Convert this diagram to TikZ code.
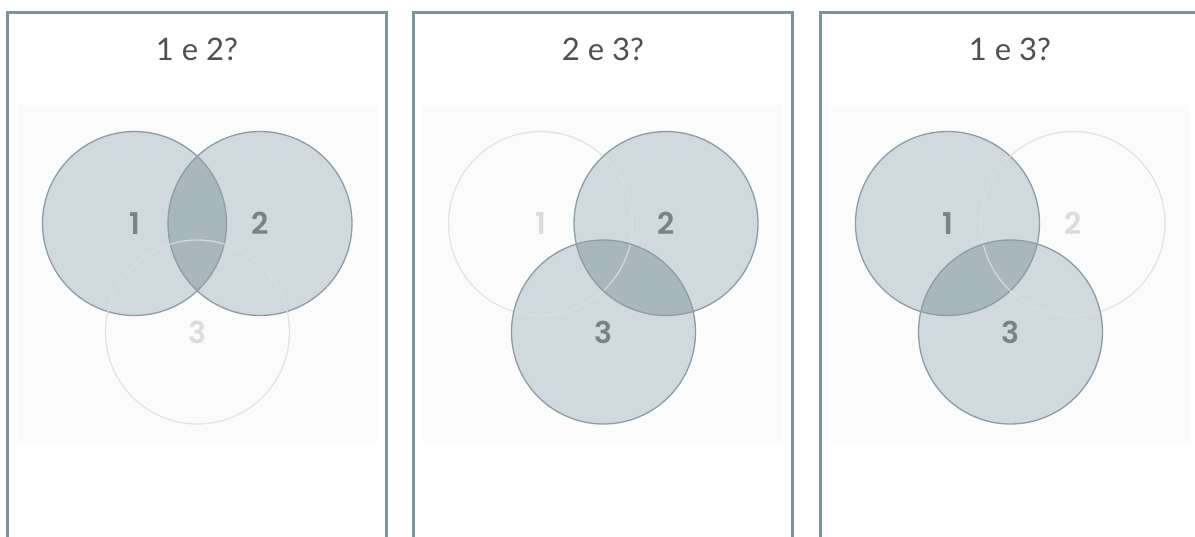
\documentclass[tikz,border=0pt]{standalone}
\usepackage{fontspec}
\setmainfont{Poppins}
\newfontfamily\titlefont{Lato}
\newfontfamily\numfont{Poppins}[UprightFont=* SemiBold]
\definecolor{vborder}{HTML}{7B929F}
\definecolor{vband}{HTML}{FBFBFB}
\definecolor{vsingle}{HTML}{CFD9DE}
\definecolor{vdouble}{HTML}{A8B7BE}
\definecolor{vline}{HTML}{8D9CA5}
\definecolor{voff}{HTML}{DEDEDE}
\definecolor{vnumon}{HTML}{7A8287}
\definecolor{vnumoff}{HTML}{DCDCDC}
\definecolor{vtitle}{HTML}{505050}
\tikzset{
  panelframe/.style={draw=vborder, line width=3pt},
  bandbox/.style={fill=vband},
  fill on/.style={fill=vsingle},
  fill off/.style={},
  line on/.style={draw=vline, line width=1.3pt},
  line off/.style={draw=voff, line width=1.3pt, draw opacity=0.8},
  num on/.style={text=vnumon, font=\numfont\fontsize{30}{34}\selectfont},
  num off/.style={text=vnumoff, font=\numfont\fontsize{30}{34}\selectfont},
  titletext/.style={text=vtitle, font=\titlefont\fontsize{31}{36}\selectfont},
}
% #1 prefix, #2 shift, #3 title, #4/#5/#6 state of circles 1/2/3, #7 #8 active pair
\newcommand\vennpanel[8]{%
\begin{scope}[xshift=#2]
  \fill[bandbox] (17,105) rectangle (377,443);
  \coordinate (#1-1) at (134.5,223.5);
  \coordinate (#1-2) at (260,223.5);
  \coordinate (#1-3) at (197.5,332);
  \path[fill #4] (#1-1) circle (92);
  \path[fill #5] (#1-2) circle (92);
  \path[fill #6] (#1-3) circle (92);
  \begin{scope}
    \clip (#1-#7) circle (92);
    \fill[vdouble] (#1-#8) circle (92);
  \end{scope}
  \path[line #4] (#1-1) circle (92);
  \path[line #5] (#1-2) circle (92);
  \path[line #6] (#1-3) circle (92);
  \node[num #4] (#1-n1) at (#1-1) {1};
  \node[num #5] (#1-n2) at (#1-2) {2};
  \node[num #6] (#1-n3) at (#1-3) {3};
  \node[titletext] (#1-t) at (197,49) {#3};
\end{scope}}
\begin{document}
\begin{tikzpicture}[x=1pt,y=-1pt]
\useasboundingbox (0,0) rectangle (1195,536);
\fill[white] (0,0) rectangle (1195,536);
\vennpanel{pa}{0pt}{1 e 2?}{on}{on}{off}{1}{2}
\vennpanel{pb}{406pt}{2 e 3?}{off}{on}{on}{2}{3}
\vennpanel{pc}{813pt}{1 e 3?}{on}{off}{on}{1}{3}
\draw[panelframe] (7.5,540) -- (7.5,12.5) -- (386.5,12.5) -- (386.5,540);
\draw[panelframe] (413.5,540) -- (413.5,12.5) -- (792.5,12.5) -- (792.5,540);
\draw[panelframe] (820.5,540) -- (820.5,12.5) -- (1200,12.5);
\end{tikzpicture}
\end{document}
